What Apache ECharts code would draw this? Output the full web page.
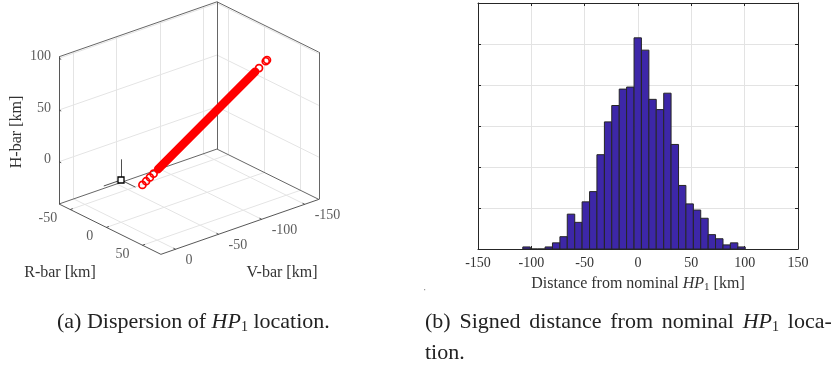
<!DOCTYPE html>
<html>
<head>
<meta charset="utf-8">
<script src="https://cdn.jsdelivr.net/npm/echarts@6/dist/echarts.min.js"></script>
<style>html,body{margin:0;padding:0;background:#fff}#c{width:838px;height:367px}</style>
</head>
<body>
<div id="c"></div>
<script>
// ---------- (a) 3D dispersion data (R-bar, V-bar, H-bar in km) ----------
const R_LIM = [-65.5, 75.5];
const V_LIM = [-166.4, 17];
const H_LIM = [-40.9, 101.5];
const R_TICKS = [-50, 0, 50];
const V_TICKS = [0, -50, -100, -150];
const H_TICKS = [0, 50, 100];
// isolated dispersed HP1 samples (ends of the cloud)
const PT_R = [-47.6, -44.5, -41.4, -38.3, 49.6, 55.2, 56.2];
const PT_V = [-64.8, -66.5, -68.3, -70.0, -118.7, -121.8, -122.4];
const PT_H = [-40.0, -35.8, -31.6, -27.4, 91.0, 98.6, 100.0];
// dense core of the cloud (start / end)
const BAND_R = [-34.6, 46.3];
const BAND_V = [-72.0, -116.9];
const BAND_H = [-22.5, 86.7];
// nominal HP1 and its local triad
const NOMINAL = [0, 0, 0];
const TRIAD_LEN = 20;

// ---------- (b) histogram of signed distance ----------
const BIN_EDGES = [-108, -101, -94.1, -87.1, -80.2, -73.2, -66.3, -59.3, -52.4, -45.4, -38.5,
  -31.5, -24.6, -17.6, -10.7, -3.7, 3.2, 10.2, 17.1, 24.1, 31, 38, 44.9, 51.9, 58.8, 65.8,
  72.7, 79.7, 86.6, 93.6, 100.5];
const COUNTS = [1, 0, 0, 1, 3, 6, 17, 13, 23, 28, 46, 62, 70, 78, 79, 103, 97, 73, 68, 76,
  51, 31, 22, 19, 15, 7, 5, 2, 3, 1];
const HIST_X_TICKS = [-150, -100, -50, 0, 50, 100, 150];

// ---------- projection (orthographic, MATLAB-like view) ----------
const AZ = 50 * Math.PI / 180, EL = 24.5 * Math.PI / 180, S = 1.124, HZ = 1.034;
function P(r, v, h) {
  return [S * (Math.cos(AZ) * r - Math.sin(AZ) * v),
          HZ * h - S * Math.sin(EL) * (Math.sin(AZ) * r + Math.cos(AZ) * v)];
}
const [r0, r1] = R_LIM, [v0, v1] = V_LIM, [h0, h1] = H_LIM;
function seg(a, b) { return { coords: [P(...a), P(...b)] }; }

const gridSegs = [];
R_TICKS.forEach(r => { gridSegs.push(seg([r, v1, h0], [r, v0, h0])); gridSegs.push(seg([r, v0, h0], [r, v0, h1])); });
V_TICKS.forEach(v => { gridSegs.push(seg([r0, v, h0], [r1, v, h0])); gridSegs.push(seg([r0, v, h0], [r0, v, h1])); });
H_TICKS.forEach(h => { gridSegs.push(seg([r0, v1, h], [r0, v0, h])); gridSegs.push(seg([r0, v0, h], [r1, v0, h])); });

const boxSegs = [
  seg([r0, v1, h0], [r0, v0, h0]), seg([r0, v0, h0], [r1, v0, h0]),
  seg([r0, v0, h0], [r0, v0, h1]), seg([r1, v0, h0], [r1, v0, h1]),
  seg([r0, v1, h1], [r0, v0, h1]), seg([r0, v0, h1], [r1, v0, h1])
];
const axisSegs = [
  seg([r0, v1, h0], [r1, v1, h0]), seg([r1, v1, h0], [r1, v0, h0]), seg([r0, v1, h0], [r0, v1, h1])
];
R_TICKS.forEach(r => axisSegs.push(seg([r, v1, h0], [r, v1 - 3, h0])));
V_TICKS.forEach(v => axisSegs.push(seg([r1, v, h0], [r1 - 3, v, h0])));
H_TICKS.forEach(h => axisSegs.push(seg([r0, v1, h], [r0 + 3, v1, h])));

const triadSegs = [
  seg(NOMINAL, [NOMINAL[0], NOMINAL[1], NOMINAL[2] + TRIAD_LEN]),
  seg(NOMINAL, [NOMINAL[0], NOMINAL[1] + TRIAD_LEN, NOMINAL[2]]),
  seg(NOMINAL, [NOMINAL[0] + TRIAD_LEN, NOMINAL[1], NOMINAL[2]])
];

const ptData = PT_R.map((r, i) => P(r, PT_V[i], PT_H[i]));
const bandData = BAND_R.map((r, i) => P(r, BAND_V[i], BAND_H[i]));

const FONT = "'Liberation Serif', 'DejaVu Serif', serif";
const TXT = '#333';

const rLabels = R_TICKS.map(r => [...P(r, v1, h0), r]);
const vLabels = V_TICKS.map(v => [...P(r1, v, h0), v]);
const hLabels = H_TICKS.map(h => [...P(r0, v1, h), h]);

function labelSeries(data, align, offset) {
  return {
    type: 'scatter', xAxisIndex: 0, yAxisIndex: 0, symbolSize: 0, silent: true, z: 5,
    data: data,
    label: { show: true, position: 'inside', align: align, verticalAlign: 'middle', offset: offset,
      formatter: p => String(p.data[2]), fontFamily: FONT, fontSize: 14, color: TXT }
  };
}

const histData = COUNTS.map((c, k) => [BIN_EDGES[k], BIN_EDGES[k + 1], c]);

const CAP_RICH = {
  i: { fontFamily: FONT, fontSize: 22, fontStyle: 'italic', fill: '#222' },
  s: { fontFamily: FONT, fontSize: 14, fill: '#222', padding: [10, 0, 0, 0] },
  w: { fontFamily: FONT, fontSize: 22, width: 8.8 }
};

const chart = echarts.init(document.getElementById('c'), null, { renderer: 'canvas' });
chart.setOption({
  animation: false,
  grid: [
    { left: 0, top: 0, width: 410, height: 300 },
    { left: 478, top: 3, width: 320, height: 246 }
  ],
  xAxis: [
    { gridIndex: 0, type: 'value', min: -121, max: 289, show: false },
    { gridIndex: 1, type: 'value', min: -150, max: 150, interval: 50,
      axisLine: { show: true, onZero: false, lineStyle: { color: '#262626', width: 1 } },
      axisTick: { show: true, inside: true, length: 3, lineStyle: { color: '#262626' } },
      axisLabel: { show: true, margin: 7, fontFamily: FONT, fontSize: 14, color: TXT,
        customValues: HIST_X_TICKS, formatter: v => String(v) },
      splitLine: { show: true, lineStyle: { color: '#e3e3e3', width: 1 } },
      name: 'Distance from nominal {i|HP}{s|1} [km]', nameLocation: 'middle', nameGap: 25,
      nameTextStyle: { fontFamily: FONT, fontSize: 16, color: TXT,
        rich: { i: { fontFamily: FONT, fontSize: 16, fontStyle: 'italic', color: TXT },
                s: { fontFamily: FONT, fontSize: 11, color: TXT, padding: [8, 0, 0, 0] } } } },
    { gridIndex: 1, type: 'value', min: -150, max: 150, interval: 50, position: 'top',
      axisLine: { show: true, onZero: false, lineStyle: { color: '#262626', width: 1 } },
      axisTick: { show: true, inside: true, length: 3, lineStyle: { color: '#262626' } },
      axisLabel: { show: false }, splitLine: { show: false } }
  ],
  yAxis: [
    { gridIndex: 0, type: 'value', min: -120, max: 180, show: false },
    { gridIndex: 1, type: 'value', min: 0, max: 120, interval: 20,
      axisLine: { show: true, onZero: false, lineStyle: { color: '#262626', width: 1 } },
      axisTick: { show: true, inside: true, length: 3, lineStyle: { color: '#262626' } },
      axisLabel: { show: false },
      splitLine: { show: true, lineStyle: { color: '#e3e3e3', width: 1 } } },
    { gridIndex: 1, type: 'value', min: 0, max: 120, interval: 20, position: 'right',
      axisLine: { show: true, onZero: false, lineStyle: { color: '#262626', width: 1 } },
      axisTick: { show: true, inside: true, length: 3, lineStyle: { color: '#262626' } },
      axisLabel: { show: false }, splitLine: { show: false } }
  ],
  series: [
    { type: 'lines', coordinateSystem: 'cartesian2d', xAxisIndex: 0, yAxisIndex: 0, silent: true, z: 1,
      data: gridSegs, lineStyle: { color: '#e4e4e4', width: 1, opacity: 1 } },
    { type: 'lines', coordinateSystem: 'cartesian2d', xAxisIndex: 0, yAxisIndex: 0, silent: true, z: 2,
      data: boxSegs, lineStyle: { color: '#555', width: 0.9, opacity: 1 } },
    { type: 'lines', coordinateSystem: 'cartesian2d', xAxisIndex: 0, yAxisIndex: 0, silent: true, z: 2,
      data: axisSegs, lineStyle: { color: '#444', width: 0.9, opacity: 1 } },
    { type: 'lines', coordinateSystem: 'cartesian2d', xAxisIndex: 0, yAxisIndex: 0, silent: true, z: 3,
      data: triadSegs, lineStyle: { color: '#222', width: 0.8, opacity: 1 } },
    { type: 'line', xAxisIndex: 0, yAxisIndex: 0, silent: true, z: 4, data: bandData, symbol: 'none',
      lineStyle: { color: '#ff0000', width: 8.5, cap: 'round' } },
    { type: 'scatter', xAxisIndex: 0, yAxisIndex: 0, silent: true, z: 4, data: ptData,
      symbol: 'circle', symbolSize: 7,
      itemStyle: { color: 'rgba(255,255,255,0)', borderColor: '#ff0000', borderWidth: 1.7, opacity: 1 } },
    { type: 'scatter', xAxisIndex: 0, yAxisIndex: 0, silent: true, z: 5, data: [P(...NOMINAL)],
      symbol: 'rect', symbolSize: 6,
      itemStyle: { color: '#fff', borderColor: '#000', borderWidth: 1.3, opacity: 1 } },
    labelSeries(rLabels, 'right', [-13, 9]),
    labelSeries(vLabels, 'left', [10, 11]),
    labelSeries(hLabels, 'right', [-8, -2]),
    { type: 'custom', xAxisIndex: 1, yAxisIndex: 1, silent: true, z: 3, data: histData,
      encode: { x: [0, 1], y: 2 },
      renderItem: function (params, api) {
        const a = api.coord([api.value(0), api.value(2)]);
        const b = api.coord([api.value(1), 0]);
        return { type: 'rect', shape: { x: a[0], y: a[1], width: b[0] - a[0], height: b[1] - a[1] },
          style: { fill: '#3d27a8', stroke: '#262626', lineWidth: 1 } };
      } }
  ],
  graphic: [
    { type: 'text', x: 17, y: 132, rotation: Math.PI / 2, style: { text: 'H-bar [km]', font: '16px ' + FONT, fill: TXT, align: 'center', verticalAlign: 'middle' } },
    { type: 'text', x: 60, y: 273, style: { text: 'R-bar [km]', font: '16px ' + FONT, fill: TXT, align: 'center', verticalAlign: 'middle' } },
    { type: 'text', x: 282, y: 273, style: { text: 'V-bar [km]', font: '16px ' + FONT, fill: TXT, align: 'center', verticalAlign: 'middle' } },
    { type: 'text', x: 57, y: 322, style: { text: '(a) Dispersion of {i|HP}{s|1} location.', font: '22px ' + FONT, fill: '#222', verticalAlign: 'middle', rich: CAP_RICH } },
    { type: 'text', x: 425, y: 322, style: { text: '(b){w| }Signed{w| }distance{w| }from{w| }nominal{w| }{i|HP}{s|1}{w| }loca-', font: '22px ' + FONT, fill: '#222', verticalAlign: 'middle', rich: CAP_RICH } },
    { type: 'text', x: 425, y: 353, style: { text: 'tion.', font: '22px ' + FONT, fill: '#222', verticalAlign: 'middle' } },
    { type: 'rect', shape: { x: 424, y: 289, width: 1.2, height: 1.2 }, style: { fill: '#999' } }
  ]
});
</script>
</body>
</html>
